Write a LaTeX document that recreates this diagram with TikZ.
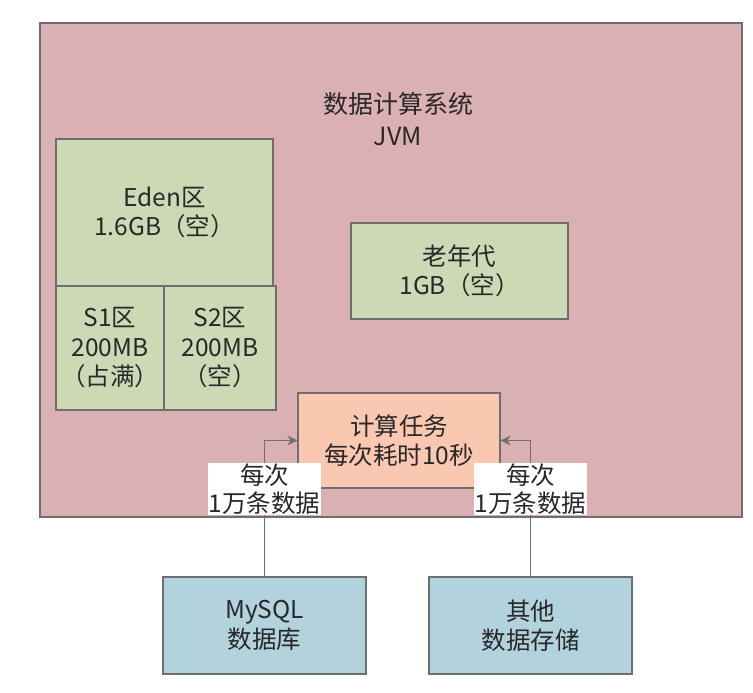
\documentclass[tikz,border=0pt]{standalone}
\usepackage{fontspec}
\setmainfont{Noto Sans CJK SC}
\usetikzlibrary{arrows.meta}
\definecolor{pinkbg}{RGB}{219,176,178}
\definecolor{greenbg}{RGB}{205,217,181}
\definecolor{orangebg}{RGB}{250,200,176}
\definecolor{bluebg}{RGB}{178,210,222}
\definecolor{edge}{RGB}{110,110,110}
\definecolor{txt}{RGB}{40,40,40}
\tikzset{
  box/.style={draw=edge, line width=1.3pt, rectangle, inner sep=0pt, align=center,
    text=txt, font=\fontsize{24.5}{29.5}\selectfont},
  lbl/.style={fill=white, inner sep=1pt, align=center, text=txt, font=\fontsize{24.5}{28}\selectfont},
  conn/.style={draw=edge, line width=1.1pt},
  arr/.style={conn, -{Stealth[length=10pt,width=10pt]}}
}
\begin{document}
\begin{tikzpicture}[x=1pt,y=-1pt]
\useasboundingbox (0,0) rectangle (753,693);
\node[box, fill=pinkbg, minimum width=702pt, minimum height=494pt] (jvm) at (391,270) {};
\node[align=center, text=txt, font=\fontsize{25}{32}\selectfont] (title) at (398,119) {数据计算系统\\JVM};
\node[box, fill=greenbg, minimum width=217pt, minimum height=147pt] (eden) at (164.5,212.5) {Eden区\\1.6GB（空）};
\node[box, fill=greenbg, minimum width=108pt, minimum height=124pt] (s1) at (110,348) {S1区\\200MB\\（占满）};
\node[box, fill=greenbg, minimum width=112pt, minimum height=124pt] (s2) at (220,348) {S2区\\200MB\\（空）};
\node[box, fill=greenbg, minimum width=217pt, minimum height=96pt] (old) at (459.5,271) {老年代\\1GB（空）};
\node[box, fill=orangebg, minimum width=202pt, minimum height=95pt] (task) at (399,440.5) {计算任务\\每次耗时10秒};
\node[box, fill=bluebg, minimum width=203pt, minimum height=97pt] (mysql) at (264.5,625.5) {MySQL\\数据库};
\node[box, fill=bluebg, minimum width=203pt, minimum height=97pt] (other) at (530.5,625.5) {其他\\数据存储};
\draw[arr] (mysql.north) |- (task.west);
\draw[arr] (other.north) |- (task.east);
\node[lbl] (l1) at (264.5,489) {每次\\1万条数据};
\node[lbl] (l2) at (530.5,489) {每次\\1万条数据};
\end{tikzpicture}
\end{document}
